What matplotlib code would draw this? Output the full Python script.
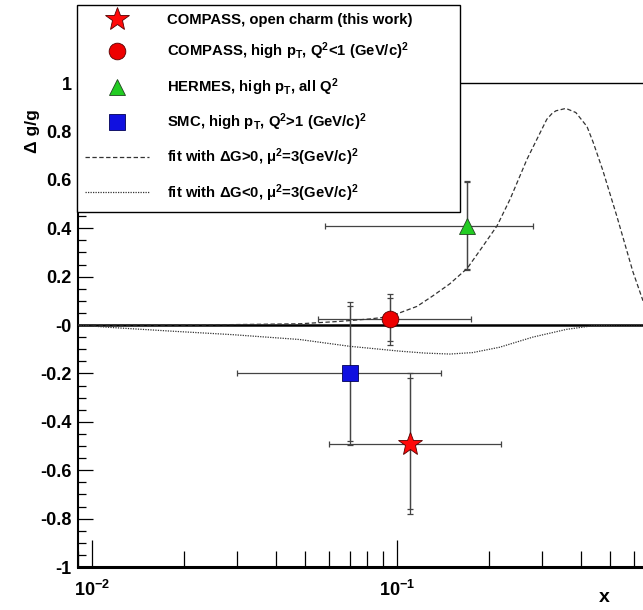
import matplotlib
matplotlib.use("Agg")
import matplotlib.pyplot as plt
from matplotlib.ticker import FixedLocator, FixedFormatter, MultipleLocator, LogLocator, NullFormatter

plt.rcParams['font.family'] = ['Liberation Sans', 'DejaVu Sans']
plt.rcParams['font.weight'] = 'bold'
plt.rcParams['mathtext.fontset'] = 'custom'
plt.rcParams['mathtext.rm'] = 'Liberation Sans:bold'
plt.rcParams['mathtext.bf'] = 'Liberation Sans:bold'
plt.rcParams['mathtext.default'] = 'regular'

# measurements: x, dg/g, x range, stat and total errors
labels = ["COMPASS, open charm (this work)",
          "COMPASS, high p$_{T}$, Q$^{2}$<1 (GeV/c)$^{2}$",
          "HERMES, high p$_{T}$, all Q$^{2}$",
          "SMC, high p$_{T}$, Q$^{2}$>1 (GeV/c)$^{2}$"]
pt_x = [0.11, 0.095, 0.17, 0.07]
pt_y = [-0.49, 0.024, 0.41, -0.20]
pt_xlo = [0.06, 0.055, 0.058, 0.03]
pt_xhi = [0.22, 0.175, 0.28, 0.14]
pt_stat = [0.27, 0.089, 0.18, 0.28]
pt_tot = [0.29, 0.106, 0.183, 0.297]

# fit curves
fit_pos_x = [0.009, 0.0226, 0.048, 0.065, 0.0815, 0.095, 0.102, 0.1164, 0.131, 0.149,
             0.170, 0.190, 0.213, 0.235, 0.267, 0.310, 0.322, 0.332, 0.358, 0.386,
             0.42, 0.44, 0.473, 0.526, 0.594, 0.641]
fit_pos_y = [0.0, 0.0, 0.005, 0.015, 0.025, 0.035, 0.05, 0.077, 0.12, 0.17,
             0.234, 0.32, 0.41, 0.52, 0.685, 0.85, 0.873, 0.885, 0.895, 0.878,
             0.82, 0.755, 0.64, 0.45, 0.22, 0.10]
fit_neg_x = [0.009, 0.0115, 0.018, 0.029, 0.048, 0.07, 0.102, 0.1235, 0.149, 0.177,
             0.217, 0.279, 0.360, 0.439, 0.538, 0.641]
fit_neg_y = [0.0, -0.01, -0.025, -0.04, -0.06, -0.088, -0.108, -0.116, -0.12, -0.114,
             -0.092, -0.05, -0.018, -0.003, 0.0, 0.0]

markers = ['*', 'o', '^', 's']
colors = ['#ff0a0a', '#ee0000', '#22cc22', '#1010e0']
edges = ['#550000', '#550000', '#224422', '#000055']
msizes = [18, 12, 12, 11]

yticks = [-1, -0.8, -0.6, -0.4, -0.2, 0, 0.2, 0.4, 0.6, 0.8, 1]
ytick_labels = ['-1', '-0.8', '-0.6', '-0.4', '-0.2', '-0', '0.2', '0.4', '0.6', '0.8', '1']
xticks = [0.01, 0.1]
xtick_labels = [r'$10^{-2}$', r'$10^{-1}$']

fig = plt.figure(figsize=(6.43, 6.10), dpi=100)
ax = fig.add_axes([78 / 643, 1 - 567 / 610, 1 - 78 / 643, (567 - 83) / 610])
ax.set_xscale('log')
ax.set_xlim(0.009, 0.641)
ax.set_ylim(-1, 1.0)

ax.axhline(0, color='black', lw=1.8, zorder=2)

ecol = '#444444'
for i in range(4):
    xe = [[pt_x[i] - pt_xlo[i]], [pt_xhi[i] - pt_x[i]]]
    ax.errorbar([pt_x[i]], [pt_y[i]], xerr=xe, yerr=pt_tot[i], fmt='none',
                ecolor=ecol, elinewidth=0.9, capsize=2.5, capthick=0.9, zorder=3)
    ax.errorbar([pt_x[i]], [pt_y[i]], yerr=pt_stat[i], fmt='none',
                ecolor=ecol, elinewidth=0.9, capsize=2.5, capthick=0.9, zorder=3)

handles = []
for i in range(4):
    h, = ax.plot([pt_x[i]], [pt_y[i]], linestyle='none', marker=markers[i],
                 markersize=msizes[i], color=colors[i], markeredgecolor=edges[i],
                 markeredgewidth=0.6, zorder=5, label=labels[i])
    handles.append(h)

h5, = ax.plot(fit_pos_x, fit_pos_y, color='#333333', lw=0.9, linestyle=(0, (3.5, 2)),
              zorder=4, label=r"fit with ΔG>0, μ$^{2}$=3(GeV/c)$^{2}$")
h6, = ax.plot(fit_neg_x, fit_neg_y, color='#333333', lw=0.9, linestyle=(0, (1, 1)),
              zorder=4, label=r"fit with ΔG<0, μ$^{2}$=3(GeV/c)$^{2}$")
handles += [h5, h6]

ax.spines['right'].set_visible(False)
ax.spines['left'].set_linewidth(1.5)
ax.spines['bottom'].set_linewidth(2.2)
ax.spines['top'].set_linewidth(1.0)

ax.xaxis.set_major_locator(FixedLocator(xticks))
ax.xaxis.set_major_formatter(FixedFormatter(xtick_labels))
ax.xaxis.set_minor_locator(LogLocator(base=10, subs=[2, 3, 4, 5, 6, 7, 8, 9]))
ax.xaxis.set_minor_formatter(NullFormatter())
ax.yaxis.set_major_locator(FixedLocator(yticks))
ax.yaxis.set_major_formatter(FixedFormatter(ytick_labels))
ax.yaxis.set_minor_locator(MultipleLocator(0.05))

ax.tick_params(axis='x', which='major', direction='in', length=19.5, width=0.9,
               labelsize=13, pad=9, top=False)
ax.tick_params(axis='x', which='minor', direction='in', length=11.5, width=0.9, top=False)
ax.tick_params(axis='y', which='major', direction='in', length=10.5, width=0.9,
               labelsize=13, pad=4.5, right=False)
ax.tick_params(axis='y', which='minor', direction='in', length=6, width=0.9, right=False)

fig.text(32 / 643, 1 - 131 / 610, 'Δ g/g', rotation=90, ha='center', va='center',
         fontsize=12.5, fontweight='bold')
fig.text(604 / 643, 1 - 598 / 610, 'x', ha='center', va='center',
         fontsize=14, fontweight='bold')

leg = fig.legend(handles=handles, loc='upper left',
                 bbox_to_anchor=(77 / 643, 1 - 208 / 610, (460 - 77) / 643, 203 / 610),
                 mode='expand', borderaxespad=0, fancybox=False, framealpha=1,
                 edgecolor='black', fontsize=10.7, handlelength=4.3, handletextpad=1.2,
                 labelspacing=0.92, borderpad=0.55, numpoints=1)
leg.get_frame().set_linewidth(1.0)

fig.savefig('out.png', dpi=100, facecolor='white')
